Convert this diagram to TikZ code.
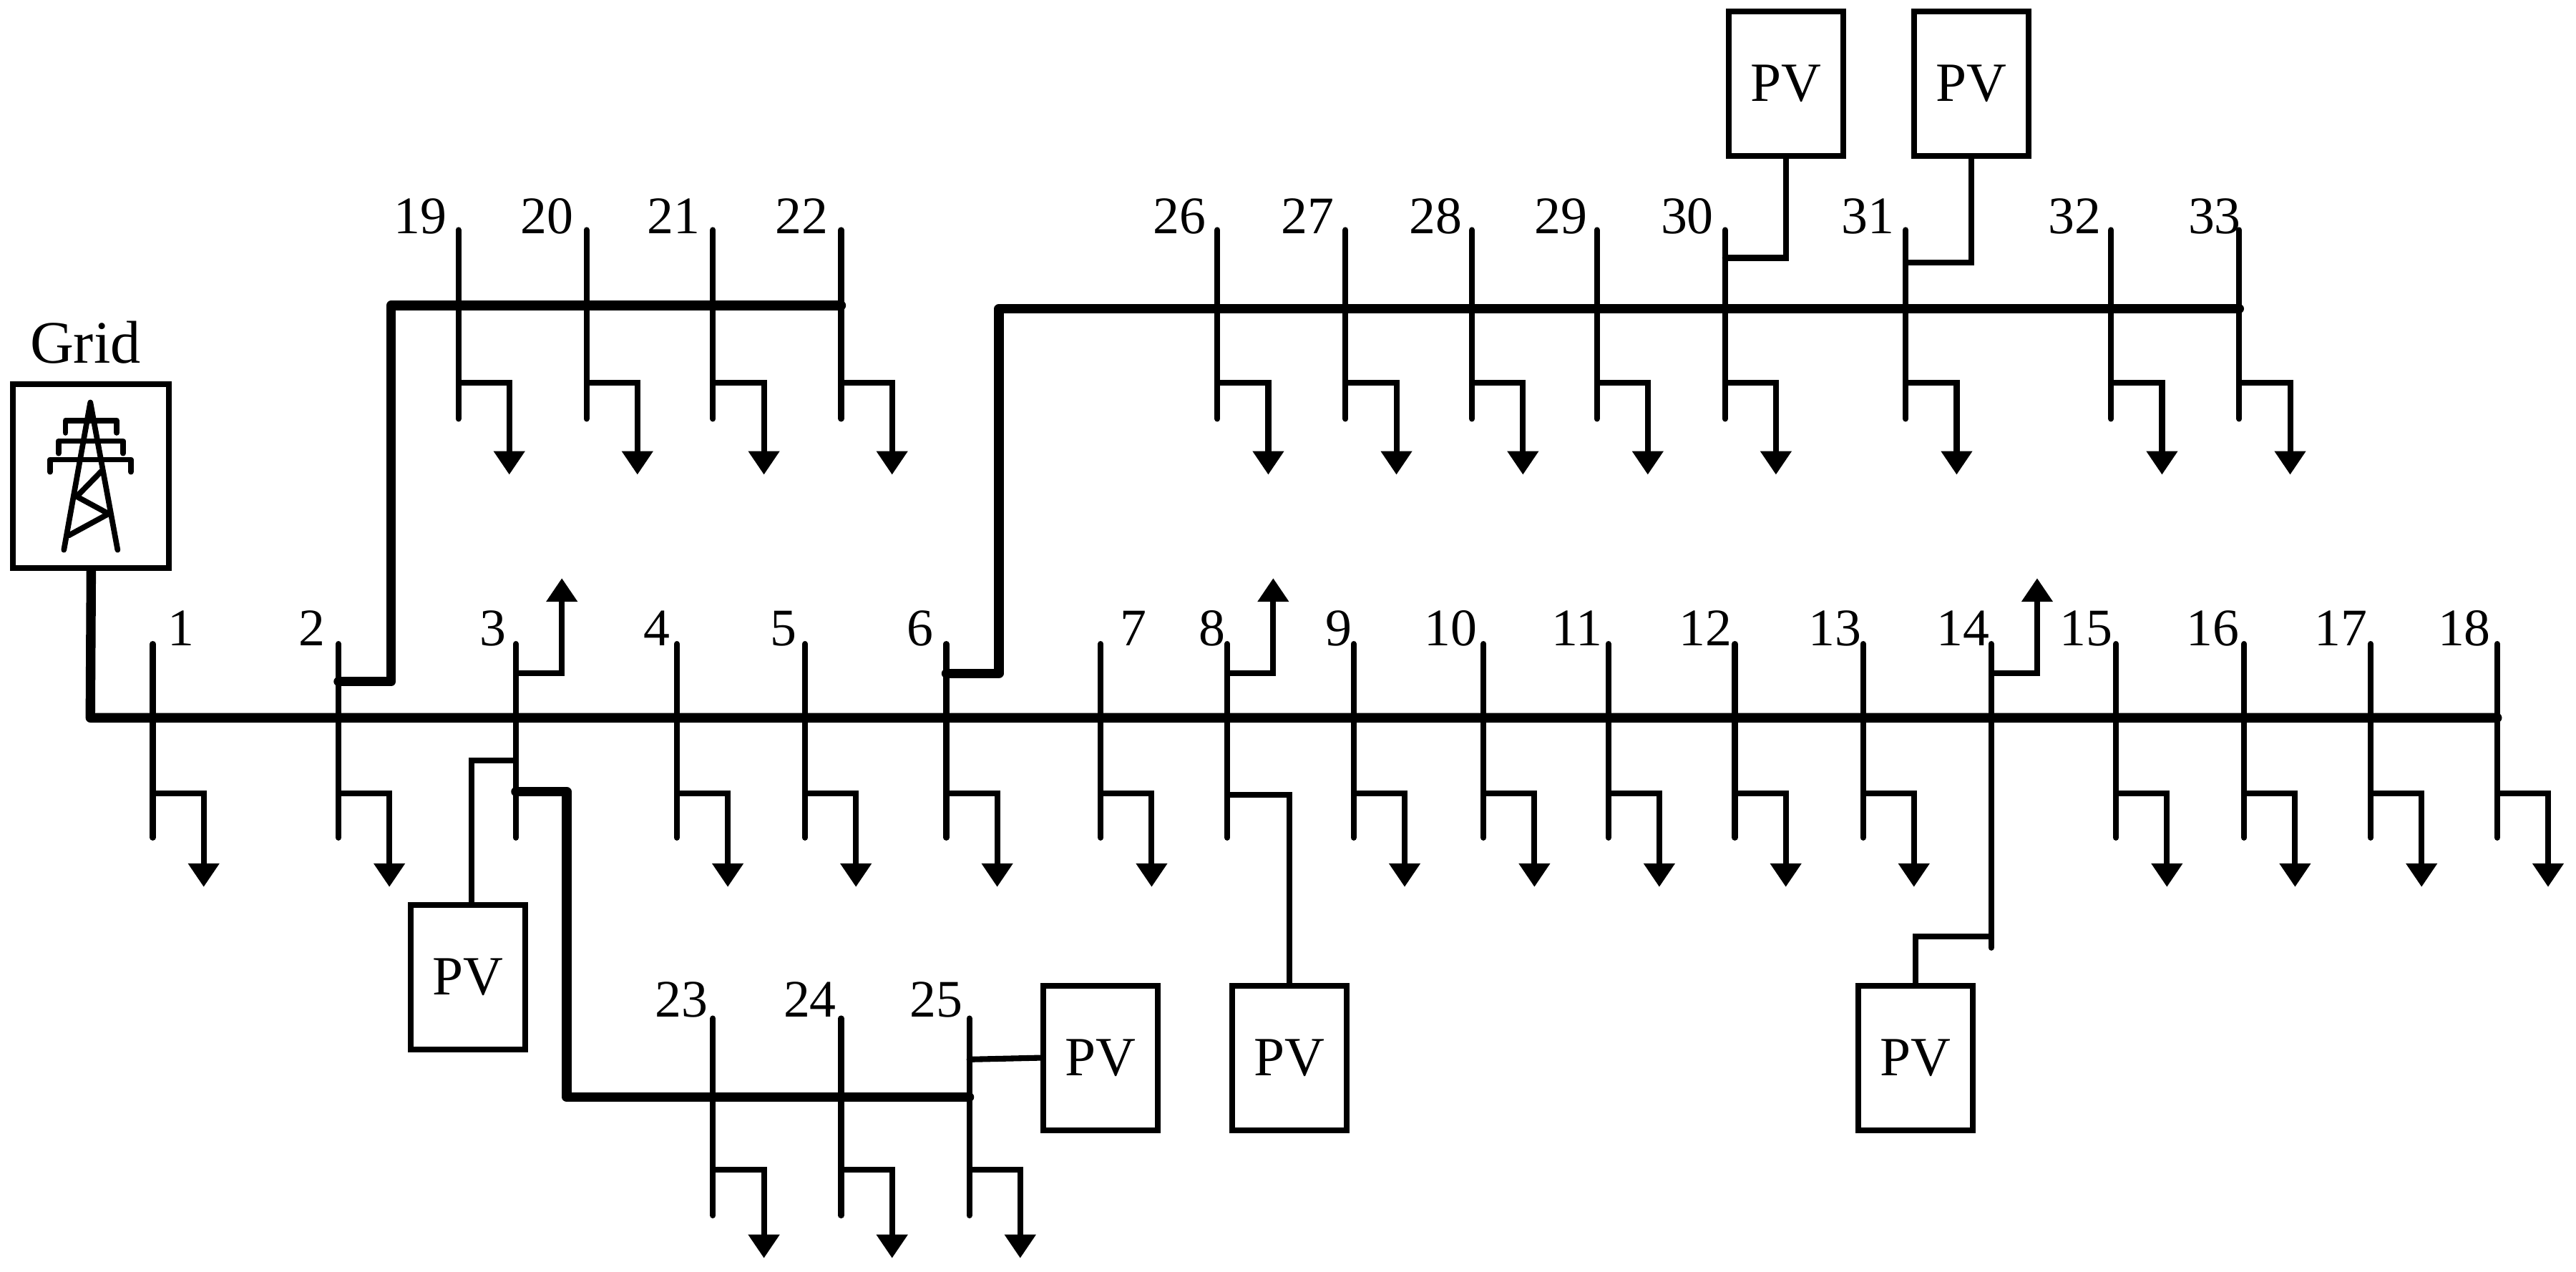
\documentclass[tikz,border=0pt]{standalone}
\usepackage{fontspec}
\setmainfont{Liberation Serif}
\usetikzlibrary{arrows.meta}
\tikzset{
  feeder/.style={line width=3.8pt,line join=round,line cap=round},
  tap/.style={line width=2.3pt,line cap=round},
  load/.style={line width=2.3pt,-{Triangle[width=0.42cm,length=0.33cm]}},
  pv/.style={draw,line width=2.3pt,minimum width=1.6cm,minimum height=2.02cm,font=\fontsize{22}{24}\selectfont},
  lbl/.style={font=\fontsize{21}{23}\selectfont,anchor=base},
  tower/.style={line width=2.2pt,line cap=round,line join=round}
}
\begin{document}
\begin{tikzpicture}[x=0.02296cm,y=-0.02296cm]
\useasboundingbox (0,0) rectangle (1568,774);

% grid source
\node[draw,line width=2.3pt,minimum width=2.18cm,minimum height=2.57cm] (G) at (55.5,290) {};
\node[lbl,font=\fontsize{24}{26}\selectfont] (Glbl) at (52,221) {Grid};
\draw[tower] (38.9,334.8) -- (55,245) -- (71.6,334.8);
\draw[tower] (39.9,263.5) -- (39.9,256) -- (71,256) -- (71,263.5);
\draw[tower] (35.6,276) -- (35.6,268.5) -- (74.9,268.5) -- (74.9,276);
\draw[tower] (30.5,287.3) -- (30.5,279.8) -- (79.7,279.8) -- (79.7,287.3);
\draw[tower] (61.8,286.8) -- (46.7,302.3) -- (66.1,312.8) -- (41.8,326);

% main feeder, buses 1-18
\coordinate (S) at (55,437);
\coordinate (E) at (1520,437);
\draw[feeder] (G.south) -- (S) -- (E);
\foreach \n/\x/\lx in {1/93/110,2/206/190,3/314/300,4/412/400,5/490/477,6/576/560,
                       7/670/690,8/747/738,9/824/815,10/903/883,11/979/960,12/1056/1038,
                       13/1134/1117,14/1212/1195,15/1288/1270,16/1366/1347,17/1443/1425,18/1520/1500}
{
  \coordinate (B\n) at (\x,392);
  \draw[tap] (B\n) -- ++(0,118);
  \node[lbl] (L\n) at (\lx,393) {\n};
}
% loads below the feeder
\foreach \x in {93,206,412,490,576,670,824,903,979,1056,1134,1288,1366,1443,1520}
  \draw[load] (\x,483) -- ++(31,0) -- ++(0,57);
% loads above the feeder
\foreach \x in {314,747,1212}
  \draw[load] (\x,410) -- ++(28,0) -- ++(0,-58);

% lateral 19-22
\coordinate (T2) at (206,415);
\coordinate (K2) at (238,186);
\coordinate (F22) at (512,186);
\draw[feeder] (T2) -- (T2 -| K2) -- (K2) -- (F22);
\foreach \n/\x/\lx in {19/279/256,20/357/333,21/434/410,22/512/488}
{
  \coordinate (B\n) at (\x,140);
  \draw[tap] (B\n) -- ++(0,115);
  \node[lbl] (L\n) at (\lx,142) {\n};
  \draw[load] (\x,233) -- ++(31,0) -- ++(0,56);
}

% lateral 26-33
\coordinate (T6) at (576,410);
\coordinate (K6) at (608,188);
\coordinate (F33) at (1363,188);
\draw[feeder] (T6) -- (T6 -| K6) -- (K6) -- (F33);
\foreach \n/\x/\lx in {26/741/718,27/819/796,28/896/874,29/972/950,30/1050/1027,31/1160/1137,32/1285/1263,33/1363/1348}
{
  \coordinate (B\n) at (\x,140);
  \draw[tap] (B\n) -- ++(0,115);
  \node[lbl] (L\n) at (\lx,142) {\n};
  \draw[load] (\x,233) -- ++(31,0) -- ++(0,56);
}

% lateral 23-25
\coordinate (T3) at (314,482);
\coordinate (K3) at (345,668);
\coordinate (F25) at (590,668);
\draw[feeder] (T3) -- (T3 -| K3) -- (K3) -- (F25);
\foreach \n/\x/\lx in {23/434/415,24/512/493,25/590/570}
{
  \coordinate (B\n) at (\x,620);
  \draw[tap] (B\n) -- ++(0,120);
  \node[lbl] (L\n) at (\lx,619) {\n};
  \draw[load] (\x,712) -- ++(31,0) -- ++(0,54);
}

% PV units
\node[pv] (PV3) at (285,595) {PV};
\node[pv] (PV8) at (785,644) {PV};
\node[pv] (PV14) at (1166,644) {PV};
\node[pv] (PV25) at (670,644) {PV};
\node[pv] (PV30) at (1087,51) {PV};
\node[pv] (PV31) at (1200,51) {PV};
\draw[tap] (314,463) -- (287,463) -- (PV3.north -| 287,0);
\draw[tap] (747,484) -- (785,484) -- (PV8.north);
\draw[tap] (1212,510) -- (1212,577);
\draw[tap] (1212,570) -- (1166,570) -- (PV14.north);
\draw[tap] (590,645) -- (PV25.west);
\draw[tap] (1050,157) -- (1087,157) -- (PV30.south);
\draw[tap] (1160,160) -- (1200,160) -- (PV31.south);
\end{tikzpicture}
\end{document}
